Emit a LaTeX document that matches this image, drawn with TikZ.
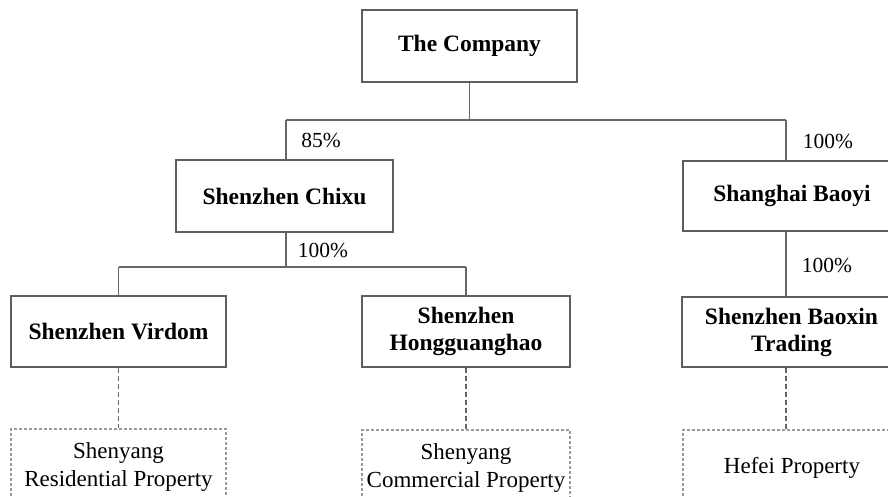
\documentclass[tikz,border=0pt]{standalone}
\usepackage{fontspec}
\setmainfont{Liberation Serif}
\definecolor{boxgray}{HTML}{5E5E5E}
\definecolor{linegray}{HTML}{666666}
\definecolor{dotgray}{HTML}{9A9A9A}
\begin{document}
\begin{tikzpicture}[x=1pt,y=-1pt,
  firm/.style={draw=boxgray, line width=1.4pt, inner sep=0pt, align=center,
    font=\fontsize{23.5}{27}\selectfont\bfseries},
  asset/.style={draw=dotgray, line width=1.2pt, dash pattern=on 3pt off 2pt,
    inner sep=0pt, align=center, font=\fontsize{23}{28}\selectfont},
  link/.style={draw=linegray, line width=1.5pt},
  dlink/.style={draw=linegray, line width=1.5pt, dash pattern=on 5pt off 3pt},
  pct/.style={font=\fontsize{21.5}{24}\selectfont, inner sep=0pt}]
\useasboundingbox (0,0) rectangle (888,497);
\clip (0,0) rectangle (888,497);
% companies
\node[firm, minimum width=215pt, minimum height=72pt] (comp) at (469.5,46) {The Company};
\node[firm, minimum width=217pt, minimum height=72pt] (chixu) at (284.5,196) {Shenzhen Chixu};
\node[firm, minimum width=218pt, minimum height=70pt] (baoyi) at (792,196) {Shanghai Baoyi};
\node[firm, minimum width=215pt, minimum height=71pt] (virdom) at (118.5,331.5) {Shenzhen Virdom};
\node[firm, minimum width=208pt, minimum height=71pt] (hong) at (466,331.5) {Shenzhen\\Hongguanghao};
\node[firm, minimum width=219pt, minimum height=70pt] (baoxin) at (791.5,332) {Shenzhen Baoxin\\Trading};
% properties
\node[asset, minimum width=215pt, minimum height=76pt] (resid) at (118.5,467) {Shenyang\\Residential Property};
\node[asset, minimum width=208pt, minimum height=76pt] (comm) at (466,468) {Shenyang\\Commercial Property};
\node[asset, minimum width=218pt, minimum height=76pt] (hefei) at (792,468) {Hefei Property};
% junctions
\coordinate (j1) at (286,120);
\coordinate (j2) at (786,120);
\coordinate (k1) at (118.5,267);
\coordinate (k2) at (466,267);
\coordinate (k0) at (286,267);
% connectors
\draw[link] (comp.south) -- (comp.south |- j1);
\draw[link] (j1) -- (j2);
\draw[link] (j1) -- (j1 |- chixu.north);
\draw[link] (j2) -- (j2 |- baoyi.north);
\draw[link] (k0 |- chixu.south) -- (k0);
\draw[link] (k1) -- (k2);
\draw[link] (k1) -- (virdom.north);
\draw[link] (k2) -- (hong.north);
\draw[link] (j2 |- baoyi.south) -- (j2 |- baoxin.north);
\draw[dlink] (virdom.south) -- (resid.north);
\draw[dlink] (hong.south) -- (comm.north);
\draw[dlink] (j2 |- baoxin.south) -- (j2 |- hefei.north);
% labels
\node[pct] (l1) at (321,140) {85\%};
\node[pct] (l2) at (828,141) {100\%};
\node[pct] (l3) at (323,250) {100\%};
\node[pct] (l4) at (827,265) {100\%};
\end{tikzpicture}
\end{document}
